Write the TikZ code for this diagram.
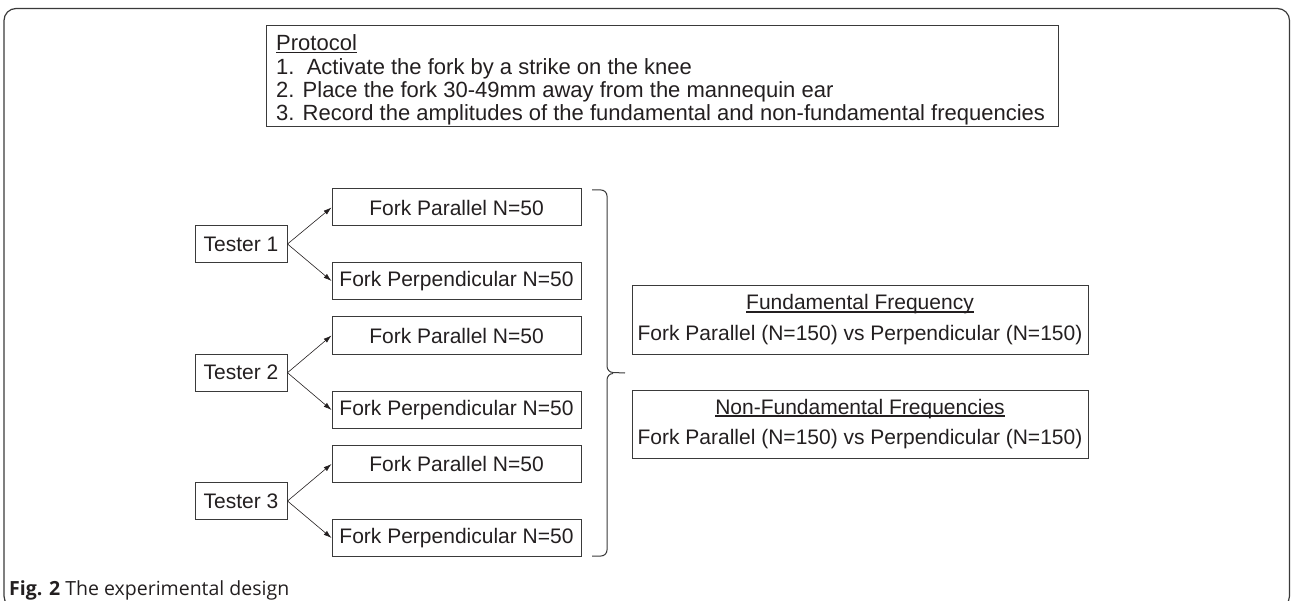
\documentclass[tikz,border=0pt]{standalone}
\usepackage{fontspec}
\setmainfont{Liberation Sans}
\newfontfamily\capfont{Open Sans}
\usetikzlibrary{arrows.meta}
\definecolor{ink}{HTML}{231F20}
\definecolor{linecol}{HTML}{3A3A3A}
\newcommand\myul[2]{\setbox0\hbox{#2}\leavevmode\rlap{\rule[-#1]{\wd0}{1.7pt}}\box0}
\begin{document}
\begin{tikzpicture}[x=1pt,y=-1pt,
  every node/.style={text=ink, font=\fontsize{21}{24}\selectfont},
  box/.style={draw=linecol, line width=1pt, inner sep=0pt, minimum height=37pt},
  tester/.style={box, minimum width=92pt},
  fork/.style={box, minimum width=249pt},
  result/.style={box, minimum width=456pt, minimum height=68pt},
  txt/.style={inner sep=0pt, anchor=base},
  ptxt/.style={inner sep=0pt, anchor=base west, font=\fontsize{22}{24}\selectfont},
  arr/.style={-{Latex[length=8pt,width=5pt]}, draw=ink, line width=0.6pt},
  brace/.style={draw=linecol, line width=1pt}]
\useasboundingbox (0,0) rectangle (1292,601);
\begin{scope}
\clip (0,0) rectangle (1292,601);
\draw[linecol, line width=1.2pt, rounded corners=12pt] (4,8.5) rectangle (1289.5,608);
\end{scope}
% protocol
\node[draw=linecol, line width=1pt, minimum width=792pt, minimum height=101pt, inner sep=0pt, anchor=north west] (protocol) at (266,25) {};
\node[ptxt] (p0) at (276,51) {\myul{2.5pt}{Protocol}};
\node[ptxt] (p1) at (276,74.5) {1.\ \ Activate the fork by a strike on the knee};
\node[ptxt] (p2) at (276,98) {2. Place the fork 30-49mm away from the mannequin ear};
\node[ptxt] (p3) at (276,121) {3. Record the amplitudes of the fundamental and non-fundamental frequencies};
% testers
\node[tester] (t1) at (241,244) {Tester 1};
\node[tester] (t2) at (241,372.7) {Tester 2};
\node[tester] (t3) at (241,501) {Tester 3};
% forks
\node[fork] (f1) at (456.5,207.5) {Fork Parallel N=50};
\node[fork] (f2) at (456.5,281) {Fork Perpendicular N=50};
\node[fork] (f3) at (456.5,335.5) {Fork Parallel N=50};
\node[fork] (f4) at (456.5,410) {Fork Perpendicular N=50};
\node[fork] (f5) at (456.5,464) {Fork Parallel N=50};
\node[fork] (f6) at (456.5,538) {Fork Perpendicular N=50};
\draw[arr] (t1.east) -- (f1.west);
\draw[arr] (t1.east) -- (f2.west);
\draw[arr] (t2.east) -- (f3.west);
\draw[arr] (t2.east) -- (f4.west);
\draw[arr] (t3.east) -- (f5.west);
\draw[arr] (t3.east) -- (f6.west);
% brace
\coordinate (btop) at (592,190);
\coordinate (bbot) at (592,556);
\coordinate (btip) at (625,373);
\draw[brace] (btop) -- (601,190) to[out=0,in=90] (607,196) -- (607,366) to[out=270,in=180] (613,372.5) -- (btip);
\draw[brace] (613,373.5) to[out=180,in=90] (607,380) -- (607,550) to[out=270,in=0] (601,556) -- (bbot);
% results
\node[result] (r1) at (860,320) {};
\node[txt] (r1a) at (860,310) {\myul{3pt}{Fundamental Frequency}};
\node[txt] (r1b) at (860,340) {Fork Parallel (N=150) vs Perpendicular (N=150)};
\node[result] (r2) at (860,424) {};
\node[txt] (r2a) at (860,414) {\myul{3pt}{Non-Fundamental Frequencies}};
\node[txt] (r2b) at (860,444) {Fork Parallel (N=150) vs Perpendicular (N=150)};
% caption
\node[inner sep=0pt, anchor=base west, font=\capfont\fontsize{19.5}{22}\selectfont] (cap) at (9,595) {{\bfseries Fig. 2} The experimental design};
\end{tikzpicture}
\end{document}
